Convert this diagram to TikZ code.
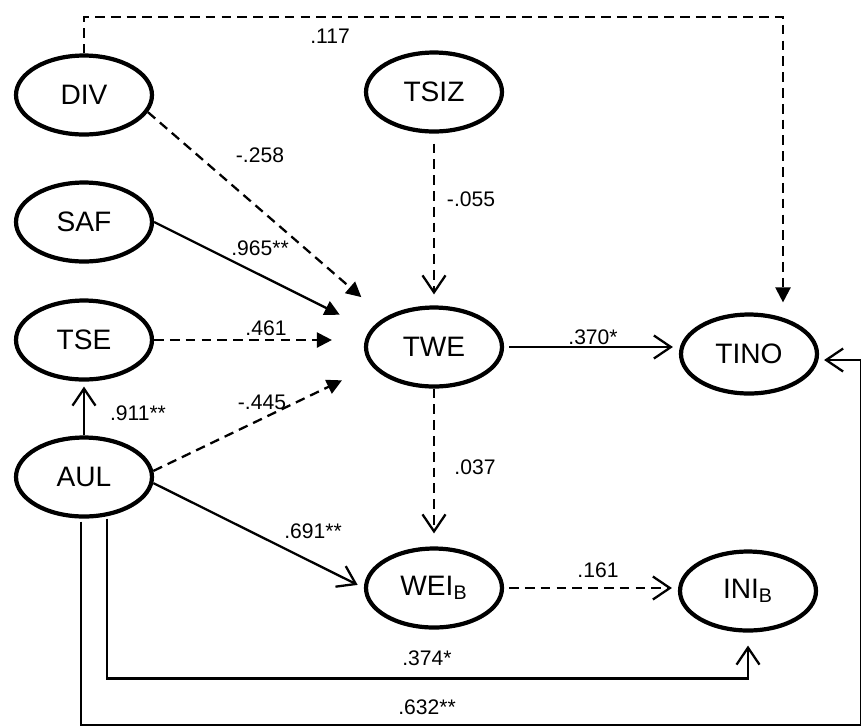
\documentclass[tikz,border=0pt]{standalone}
\usepackage{fontspec}
\setmainfont{Liberation Sans}
\usetikzlibrary{arrows.meta,calc,shapes.geometric}
\begin{document}
\begin{tikzpicture}[x=0.02cm,y=-0.02cm,
  lat/.style={draw,ellipse,line width=2.4pt,minimum width=2.72cm,minimum height=1.58cm,inner sep=0pt,font=\fontsize{16}{18}\selectfont},
  lbl/.style={font=\fontsize{12}{14}\selectfont,inner sep=1pt},
  solidconn/.style={line width=1.3pt},
  dashconn/.style={line width=1.3pt,dash pattern=on 5.5pt off 3.5pt},
  opentip/.style={-{Straight Barb[length=0.34cm,width=0.46cm]}},
  fulltip/.style={-{Triangle[length=0.3cm,width=0.3cm]}}]
\useasboundingbox (0,0) rectangle (861,725);
% latent variables
\node[lat] (DIV) at (84,95) {DIV};
\node[lat] (SAF) at (84,222) {SAF};
\node[lat] (TSE) at (84,340) {TSE};
\node[lat] (AUL) at (84,477) {AUL};
\node[lat] (TSIZ) at (434,92) {TSIZ};
\node[lat] (TWE) at (434,347) {TWE};
\node[lat] (TINO) at (749,354) {TINO};
\node[lat] (WEI) at (434,588) {WEI\textsubscript{B}};
\node[lat] (INI) at (748,591) {INI\textsubscript{B}};
\coordinate (top117) at (783,17);
% paths
\draw[dashconn,fulltip,shorten >=0.2cm] (DIV.north) |- (top117) -- (top117 |- TINO.north);
\draw[dashconn,fulltip,shorten >=0.62cm] (DIV.-15) -- (TWE.149);
\draw[solidconn,fulltip,shorten >=0.68cm] (SAF.east) -- (TWE.165);
\draw[dashconn,fulltip,shorten >=0.64cm] (TSE.east) -- (TSE.east -| TWE.west);
\draw[dashconn,fulltip,shorten >=0.66cm] (AUL.5) -- (TWE.197);
\draw[solidconn,opentip,shorten >=0.1cm] (AUL.north) -- (TSE.south);
\draw[solidconn,opentip,shorten >=0.14cm] (AUL.-5) -- (WEI.west);
\draw[dashconn,opentip,shorten <=0.2cm,shorten >=0.22cm] (TSIZ.south) -- (TWE.north);
\draw[solidconn,opentip,shorten <=0.1cm,shorten >=0.12cm] (TWE.east) -- (TWE.east -| TINO.west);
\draw[dashconn,opentip,shorten >=0.26cm] (TWE.south) -- (WEI.north);
\draw[dashconn,opentip,shorten <=0.1cm,shorten >=0.12cm] (WEI.east) -- (WEI.east -| INI.west);
\draw[solidconn,opentip,shorten >=0.26cm] ($(AUL.south)+(23,0)$) -- ++(0,160) -| (INI.south);
\draw[solidconn,opentip,shorten >=0.1cm] ($(AUL.south)+(-3,3)$) |- (861.3,725.3) |- ($(TINO.east)+(0,6)$);
% coefficients
\node[lbl] (c117) at (330,36) {.117};
\node[lbl] (c258) at (260,155) {-.258};
\node[lbl] (c055) at (471,199) {-.055};
\node[lbl] (c965) at (260,248) {.965**};
\node[lbl] (c461) at (266,328) {.461};
\node[lbl] (c370) at (593,337) {.370*};
\node[lbl] (c445) at (262,402) {-.445};
\node[lbl] (c911) at (138,413) {.911**};
\node[lbl] (c037) at (475,467) {.037};
\node[lbl] (c691) at (313,531) {.691**};
\node[lbl] (c161) at (598,570) {.161};
\node[lbl] (c374) at (427,658) {.374*};
\node[lbl] (c632) at (427,707) {.632**};
\end{tikzpicture}
\end{document}
